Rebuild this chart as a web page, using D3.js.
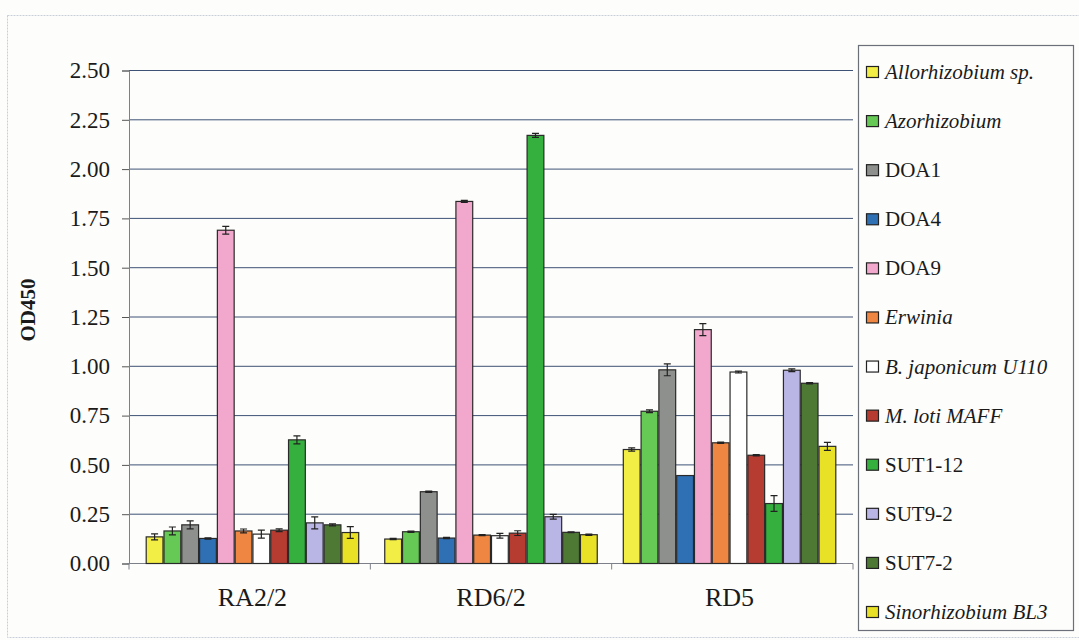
<!DOCTYPE html>
<html>
<head>
<meta charset="utf-8">
<script src="https://cdn.jsdelivr.net/npm/d3@7"></script>
<style>
  body { margin: 0; background: #fdfdfb; }
  svg text { font-family: "Liberation Serif", "Times New Roman", serif !important; }
</style>
</head>
<body>
<div id="chart"></div>
<script>
// data
var groups = ["RA2/2", "RD6/2", "RD5"];
var strains = ["Allorhizobium sp.", "Azorhizobium", "DOA1", "DOA4", "DOA9", "Erwinia",
               "B. japonicum U110", "M. loti MAFF", "SUT1-12", "SUT9-2", "SUT7-2", "Sinorhizobium BL3"];
var italicStrain = [true, true, false, false, false, true, true, true, false, false, false, true];
var colors = ["#f3ee45", "#66c955", "#8d908d", "#2f70b5", "#f2a8cd", "#ef8743",
              "#ffffff", "#b63b31", "#35b03e", "#b9b5e4", "#4e7934", "#e9e125"];

var valuesRA22 = [0.135, 0.165, 0.196, 0.127, 1.690, 0.165, 0.149, 0.169, 0.627, 0.206, 0.196, 0.157];
var valuesRD62 = [0.124, 0.161, 0.364, 0.129, 1.836, 0.144, 0.141, 0.154, 2.171, 0.237, 0.158, 0.146];
var valuesRD5  = [0.578, 0.772, 0.982, 0.446, 1.186, 0.612, 0.971, 0.549, 0.304, 0.980, 0.914, 0.594];

var errRA22 = [0.015, 0.020, 0.020, 0.003, 0.020, 0.010, 0.020, 0.007, 0.020, 0.030, 0.005, 0.030];
var errRD62 = [0.003, 0.003, 0.003, 0.003, 0.005, 0.003, 0.012, 0.012, 0.010, 0.012, 0.002, 0.003];
var errRD5  = [0.008, 0.007, 0.030, 0.000, 0.030, 0.003, 0.005, 0.003, 0.040, 0.007, 0.003, 0.020];

var yTicks = [0, 0.25, 0.5, 0.75, 1.0, 1.25, 1.5, 1.75, 2.0, 2.25, 2.5];

var allValues = [valuesRA22, valuesRD62, valuesRD5];
var allErrors = [errRA22, errRD62, errRD5];

var width = 1079, height = 640;
var plotLeft = 129, plotRight = 853, plotTop = 70.5, plotBottom = 563.5;

var svg = d3.select("#chart").append("svg")
            .attr("width", width)
            .attr("height", height)
            .style("display", "block");

svg.append("rect")
   .attr("width", width).attr("height", height)
   .attr("fill", "#fdfdfb");

// faint outer frame of the scanned figure
svg.append("rect")
   .attr("x", 7.5).attr("y", 15.5)
   .attr("width", 1080).attr("height", 622)
   .attr("fill", "none")
   .attr("stroke", "#c9cfd8")
   .attr("stroke-dasharray", "2,1");

var y = d3.scaleLinear().domain([0, 2.5]).range([plotBottom, plotTop]);

var x0 = d3.scaleBand()
           .domain(groups)
           .range([plotLeft, plotRight])
           .paddingInner(0.105)
           .paddingOuter(0.07);

var step = (plotRight - plotLeft) / groups.length;

var x1 = d3.scaleBand()
           .domain(d3.range(strains.length))
           .range([0, x0.bandwidth()]);

// gridlines
svg.append("g")
   .selectAll("line")
   .data(yTicks.filter(d => d > 0))
   .join("line")
   .attr("x1", plotLeft)
   .attr("x2", plotRight)
   .attr("y1", d => y(d))
   .attr("y2", d => y(d))
   .attr("stroke", "#3e5275")
   .attr("stroke-width", 1);

// y axis
var yAxis = d3.axisLeft(y)
              .tickValues(yTicks)
              .tickFormat(d3.format(".2f"))
              .tickSize(7)
              .tickPadding(12);

var yG = svg.append("g")
            .attr("transform", "translate(" + plotLeft + ",0)")
            .call(yAxis);
yG.select(".domain").attr("stroke", "#7d8088");
yG.selectAll(".tick line").attr("stroke", "#555");
yG.selectAll("text")
  .attr("font-size", 23)
  .attr("fill", "#1a1a1a");

// x axis
svg.append("line")
   .attr("x1", plotLeft - 2).attr("x2", plotRight)
   .attr("y1", plotBottom).attr("y2", plotBottom)
   .attr("stroke", "#7d8088");

svg.append("g")
   .selectAll("line")
   .data(d3.range(groups.length + 1))
   .join("line")
   .attr("x1", i => plotLeft + i * step)
   .attr("x2", i => plotLeft + i * step)
   .attr("y1", plotBottom)
   .attr("y2", plotBottom + 6)
   .attr("stroke", "#7d8088");

svg.append("g")
   .selectAll("text")
   .data(groups)
   .join("text")
   .attr("x", d => x0(d) + x0.bandwidth() / 2)
   .attr("y", 606)
   .attr("text-anchor", "middle")
   .attr("font-size", 26)
   .attr("fill", "#1a1a1a")
   .text(d => d);

// y title
svg.append("text")
   .attr("transform", "translate(35,310) rotate(-90)")
   .attr("text-anchor", "middle")
   .attr("font-size", 21)
   .attr("font-weight", "bold")
   .attr("fill", "#1a1a1a")
   .text("OD450");

// bars
var barData = [];
groups.forEach(function(g, gi) {
    strains.forEach(function(s, si) {
        barData.push({ group: g, i: si, value: allValues[gi][si], err: allErrors[gi][si] });
    });
});

var bars = svg.append("g")
              .selectAll("g")
              .data(barData)
              .join("g")
              .attr("transform", d => "translate(" + (x0(d.group) + x1(d.i)) + ",0)");

bars.append("rect")
    .attr("x", 0.5)
    .attr("y", d => y(d.value))
    .attr("width", x1.bandwidth() - 1)
    .attr("height", d => y(0) - y(d.value))
    .attr("fill", d => colors[d.i])
    .attr("stroke", "#2a2a2a")
    .attr("stroke-width", 1.2);

var cx = x1.bandwidth() / 2;
bars.filter(d => d.err > 0)
    .append("path")
    .attr("d", d => {
        var t = y(d.value + d.err), b = y(d.value - d.err);
        return "M" + (cx - 3.5) + "," + t + "H" + (cx + 3.5) +
               "M" + cx + "," + t + "V" + b +
               "M" + (cx - 3.5) + "," + b + "H" + (cx + 3.5);
    })
    .attr("stroke", "#222")
    .attr("stroke-width", 1.2)
    .attr("fill", "none");

// legend
var legend = svg.append("g");
legend.append("rect")
      .attr("x", 858.5).attr("y", 45.5)
      .attr("width", 215).attr("height", 585)
      .attr("fill", "#fdfdfb")
      .attr("stroke", "#6b6f78")
      .attr("stroke-width", 1.2);

var legendY = d3.scalePoint()
                .domain(d3.range(strains.length))
                .range([72, 612]);

var items = legend.selectAll("g.item")
                  .data(strains)
                  .join("g")
                  .attr("class", "item")
                  .attr("transform", (d, i) => "translate(866," + legendY(i) + ")");

items.append("rect")
     .attr("x", 0.5).attr("y", -5.5)
     .attr("width", 12).attr("height", 11)
     .attr("fill", (d, i) => colors[i])
     .attr("stroke", "#222")
     .attr("stroke-width", 1.2);

items.append("text")
     .attr("x", 19)
     .attr("y", 7)
     .attr("font-size", 21)
     .attr("font-style", (d, i) => italicStrain[i] ? "italic" : "normal")
     .attr("fill", "#1a1a1a")
     .text(d => d);
</script>
</body>
</html>
